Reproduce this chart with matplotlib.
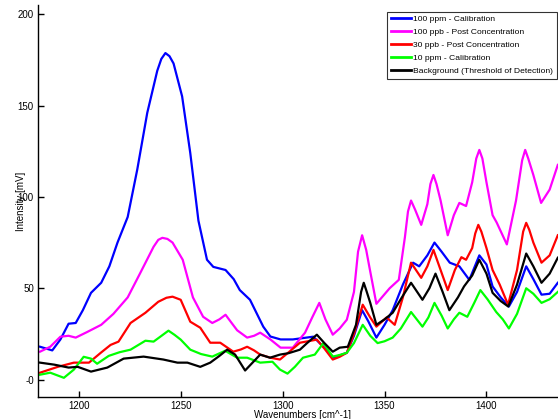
import numpy as np
import matplotlib
matplotlib.use('Agg')
import matplotlib.pyplot as plt

plt.rcParams['font.family'] = ['Liberation Sans', 'DejaVu Sans']

# readings (wavenumber, intensity)
wn_blue = [1181, 1187, 1191, 1195, 1198.5, 1202, 1206, 1211, 1215, 1219, 1224, 1228.7, 1233.6,
           1238.5, 1240.5, 1242.5, 1244.5, 1246.5, 1250.7, 1254.7, 1258.7, 1262.9, 1266, 1272, 1276,
           1279, 1284, 1290.5, 1294, 1299, 1305, 1315, 1320, 1325, 1331.5, 1335, 1339, 1342, 1346,
           1350, 1354, 1359, 1364, 1367, 1371, 1374.5, 1378, 1382, 1386.7, 1391.6, 1396.5, 1400,
           1403, 1407, 1411, 1415, 1419.5, 1423, 1427, 1431, 1435]
int_blue = [18, 16, 22, 30.6, 31, 38, 47.5, 53, 62, 75, 89, 115, 146,
            169, 175.5, 178.7, 177, 173, 155, 124, 87, 65.6, 61.7, 60, 55,
            49, 43.7, 29, 23.6, 22, 22, 23.5, 18, 12, 14.7, 24, 38, 32, 23,
            30, 38, 52, 64, 62, 68, 75, 70, 64, 62, 54.6, 68, 63,
            51, 45, 40, 48, 62, 55, 46.5, 47, 53]

wn_mag = [1181, 1186, 1191, 1195, 1198.5, 1204, 1211, 1217, 1224, 1230, 1236.7, 1239, 1241, 1243.5,
          1246, 1251, 1256, 1261, 1265.5, 1269, 1272, 1275, 1277.7, 1282.6, 1286, 1289, 1294, 1299,
          1305, 1311, 1314.5, 1318, 1321, 1324.6, 1328, 1331.5, 1335, 1337, 1339, 1341, 1342.5, 1346,
          1352.5, 1357, 1360, 1361.5, 1363, 1365, 1368, 1371, 1372.5, 1374, 1375.5, 1377.5, 1381,
          1384, 1386.7, 1390, 1393, 1395, 1396.5, 1398, 1400, 1403, 1405, 1410, 1414.5, 1417.5, 1419,
          1420.5, 1423, 1426.8, 1431, 1435]
int_mag = [15.3, 18, 23.5, 24, 23, 26, 30, 36, 45, 58, 72.7, 76.5, 77.6, 77,
           75, 65.6, 45, 34.4, 31, 33, 35.5, 31, 27, 23, 24, 25.7, 22, 17.5,
           17.5, 25.7, 34, 42, 33, 24.6, 28, 32.8, 48, 70, 79, 71, 62, 41.5,
           50, 54.6, 78, 92, 98, 93, 84.7, 96, 107, 112, 107, 98, 79,
           90, 96.7, 95, 108, 121, 125.7, 121, 108, 90, 86, 74, 98, 120, 125.7,
           121, 112, 96.7, 104, 117.5]

wn_red = [1181, 1189.7, 1197.6, 1205, 1210.8, 1215.6, 1219.5, 1225.4, 1232.7, 1239, 1243, 1246, 1250,
          1254.7, 1259.6, 1264.5, 1269.4, 1275.8, 1279.5, 1282.6, 1286, 1289, 1294, 1298.7, 1303,
          1308.5, 1316.8, 1320.5, 1324.6, 1328, 1331.5, 1335, 1339.3, 1343, 1346, 1351, 1355, 1359,
          1363, 1368, 1371, 1374, 1377.5, 1381, 1384.5, 1387.7, 1390, 1393, 1394.5, 1396, 1397.5,
          1400, 1403, 1406.5, 1410.6, 1415, 1418, 1419.5, 1421, 1423, 1427, 1431, 1435]
int_red = [3.8, 7, 9.3, 9.3, 14.7, 19, 20.8, 31, 36.6, 42.6, 44.8, 45.4, 43.7,
           31.7, 28.4, 20.2, 20.2, 15.3, 16.5, 18, 16, 13.7, 12, 11, 15,
           20.2, 21.9, 17, 11, 12.5, 14.7, 25, 41, 34, 29, 34, 30, 45,
           64, 55.7, 62, 71, 60, 49, 60, 67, 65.6, 72, 80, 84.7, 81,
           72, 60, 52, 41, 60, 81, 85.8, 82, 75, 64, 68, 79]

wn_green = [1181, 1186, 1192.7, 1197.6, 1202.4, 1206, 1209, 1214.7, 1220, 1225.4, 1232.7, 1236.7,
            1240, 1244, 1247, 1250, 1254.7, 1260, 1265.5, 1271.8, 1277.7, 1282.6, 1289, 1295,
            1298.7, 1302.4, 1306, 1310, 1315.8, 1320, 1324.6, 1328, 1331.5, 1335, 1339.3, 1343,
            1346.6, 1350, 1354, 1358, 1363, 1368.6, 1371.5, 1374.5, 1378, 1381, 1384, 1386.7,
            1390.6, 1394, 1397, 1400.5, 1404.8, 1408, 1411, 1415, 1419.5, 1423, 1427, 1431, 1435]
int_green = [2.7, 3.8, 1, 5.5, 12.5, 11.5, 8.7, 13, 15, 16.4, 21.3, 20.8,
             23.5, 26.8, 24.5, 21.9, 16.4, 14, 12.6, 15.8, 12, 12, 9.3, 9.8,
             5.5, 3.3, 7, 12, 13.7, 20, 12.6, 13.5, 14.7, 20, 30, 24,
             20, 21, 23, 28, 37, 29, 34, 42, 35, 28, 33, 36.6,
             34.4, 42, 49, 44, 37, 33, 28, 36, 50, 47, 42, 44, 48]

wn_black = [1181, 1188, 1195, 1199.5, 1206, 1210, 1214, 1222, 1231.8, 1241.5, 1248.4, 1253.3,
            1259.6, 1264.5, 1269, 1272.8, 1276.7, 1281.6, 1285, 1289, 1293.8, 1298.7, 1303,
            1308.5, 1312, 1316.8, 1320.5, 1324.6, 1328, 1332, 1336, 1338.5, 1339.8, 1341, 1343,
            1346, 1350, 1354, 1358.5, 1363, 1368.6, 1372, 1375, 1378.5, 1381.8, 1386, 1389, 1393,
            1396.5, 1400, 1403, 1407, 1410.7, 1415, 1419.5, 1423, 1427, 1431, 1435]
int_black = [9.3, 8.2, 6.6, 7, 4.4, 5.5, 6.6, 11.5, 12.6, 11, 9.3, 9.3,
             7, 9.3, 13, 16.4, 13.7, 5, 9, 13.7, 12, 13.7, 14.5,
             16.4, 20, 24.6, 20, 15.3, 17.5, 18, 30, 48, 53, 49, 42,
             30, 33, 36.6, 45, 53, 43.7, 50, 58, 48, 38, 45, 51, 57,
             65.6, 58, 47.5, 43, 40, 52, 69, 62, 53, 58, 66.7]

labels = ['100 ppm - Calibration', '100 ppb - Post Concentration', '30 ppb - Post Concentration',
          '10 ppm - Calibration', 'Background (Threshold of Detection)']
colors = ['#0000FF', '#FF00FF', '#FF0000', '#00FF00', '#000000']

x_ticks = [1200, 1250, 1300, 1350, 1400]
y_ticks = [0, 50, 100, 150, 200]
y_tick_labels = ['-0', '50', '100', '150', '200']

fig = plt.figure(figsize=(5.58, 4.19), dpi=100)
ax = fig.add_axes([38/558, 22/419, 530/558, 392/419])

series = [(wn_blue, int_blue), (wn_mag, int_mag), (wn_red, int_red),
          (wn_green, int_green), (wn_black, int_black)]
for (xx, yy), lab, c in zip(series, labels, colors):
    ax.plot(xx, yy, color=c, lw=1.6, label=lab, solid_joinstyle='round')

ax.set_xlim(1180, 1440)
ax.set_ylim(-9.5, 205)
ax.set_xticks(x_ticks)
ax.set_yticks(y_ticks)
ax.set_yticklabels(y_tick_labels)
ax.tick_params(direction='in', length=4, width=1, labelsize=7, pad=3)
for s in ['top', 'right']:
    ax.spines[s].set_visible(False)
for s in ['left', 'bottom']:
    ax.spines[s].set_linewidth(1)

ax.set_xlabel('Wavenumbers [cm^-1]', fontsize=7, labelpad=-0.5)
ax.set_ylabel('Intensity [mV]', fontsize=7, labelpad=-6)

leg = ax.legend(loc='upper right', bbox_to_anchor=(0.979, 0.982), borderaxespad=0,
                fontsize=6.1, frameon=True, fancybox=False, handlelength=2.4,
                handletextpad=0.3, labelspacing=0.6, borderpad=0.4)
leg.get_frame().set_edgecolor('black')
leg.get_frame().set_linewidth(0.8)
for line in leg.get_lines():
    line.set_linewidth(2)

fig.savefig('out.png', dpi=100)
